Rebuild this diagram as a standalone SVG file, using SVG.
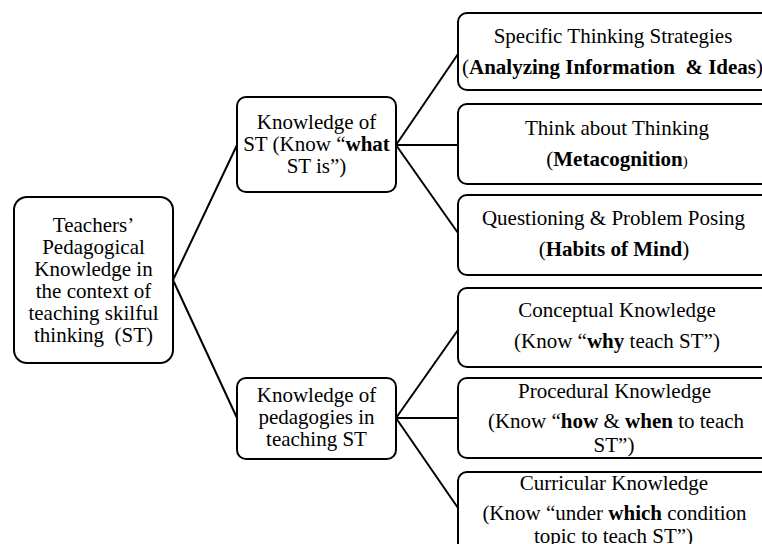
<svg xmlns="http://www.w3.org/2000/svg" width="762" height="544" viewBox="0 0 762 544">
<style>
.box{fill:#fff;stroke:#000;stroke-width:2}
.t{font-family:'Liberation Serif','Times New Roman',serif;font-size:21px;fill:#000;text-anchor:middle}
.b{font-weight:bold}
.c{stroke:#000;stroke-width:2;fill:none}
</style>
<rect width="762" height="544" fill="#fff"/>
<g id="connectors">
<path class="c" d="M173,280 L237,145 M173,280 L237,418"/>
<path class="c" d="M396,145 L458,54 M396,145 L458,145 M396,145 L458,233"/>
<path class="c" d="M396,418 L458,330 M396,418 L458,418 M396,418 L458,508"/>
</g>
<g id="root">
<rect class="box" x="14" y="197" width="159" height="166" rx="13"/>
<text class="t" x="93.5" y="232">Teachers’</text>
<text class="t" x="93.5" y="254">Pedagogical</text>
<text class="t" x="93.5" y="276">Knowledge in</text>
<text class="t" x="93.5" y="298">the context of</text>
<text class="t" x="93.5" y="320">teaching skilful</text>
<text class="t" x="93.5" y="342" xml:space="preserve">thinking  (ST)</text>
</g>
<g id="what">
<rect class="box" x="237" y="97" width="159" height="95" rx="9"/>
<text class="t" x="316.5" y="129">Knowledge of</text>
<text class="t" x="316.5" y="151">ST (Know “<tspan class="b">what</tspan></text>
<text class="t" x="316.5" y="173">ST is”)</text>
</g>
<g id="pedagogies">
<rect class="box" x="237" y="378" width="159" height="81" rx="9"/>
<text class="t" x="316.5" y="402">Knowledge of</text>
<text class="t" x="316.5" y="424">pedagogies in</text>
<text class="t" x="316.5" y="446">teaching ST</text>
</g>
<g id="strategies">
<rect class="box" x="458" y="13" width="314" height="77" rx="9"/>
<text class="t" x="613" y="43">Specific Thinking Strategies</text>
<text class="t" x="612.5" y="74" xml:space="preserve">(<tspan class="b">Analyzing Information  &amp; Ideas</tspan>)</text>
</g>
<g id="metacognition">
<rect class="box" x="458" y="104" width="314" height="80" rx="9"/>
<text class="t" x="617" y="135">Think about Thinking</text>
<text class="t" x="617" y="166">(<tspan class="b">Metacognition</tspan><tspan font-size="15">)</tspan></text>
</g>
<g id="habits">
<rect class="box" x="458" y="195" width="314" height="80" rx="9"/>
<text class="t" x="613.5" y="225">Questioning &amp; Problem Posing</text>
<text class="t" x="614" y="256">(<tspan class="b">Habits of Mind</tspan>)</text>
</g>
<g id="conceptual">
<rect class="box" x="458" y="288" width="314" height="79" rx="9"/>
<text class="t" x="617" y="317">Conceptual Knowledge</text>
<text class="t" x="617" y="348">(Know “<tspan class="b">why</tspan> teach ST”)</text>
</g>
<g id="procedural">
<rect class="box" x="458" y="378" width="314" height="80" rx="9"/>
<text class="t" x="614.5" y="398">Procedural Knowledge</text>
<text class="t" x="616" y="428">(Know “<tspan class="b">how</tspan> &amp; <tspan class="b">when</tspan> to teach</text>
<text class="t" x="614" y="452">ST”)</text>
</g>
<g id="curricular">
<rect class="box" x="458" y="472" width="314" height="90" rx="9"/>
<text class="t" x="614" y="490">Curricular Knowledge</text>
<text class="t" x="614.5" y="520">(Know “under <tspan class="b">which</tspan> condition</text>
<text class="t" x="613.5" y="543">topic to teach ST”)</text>
</g>
</svg>
